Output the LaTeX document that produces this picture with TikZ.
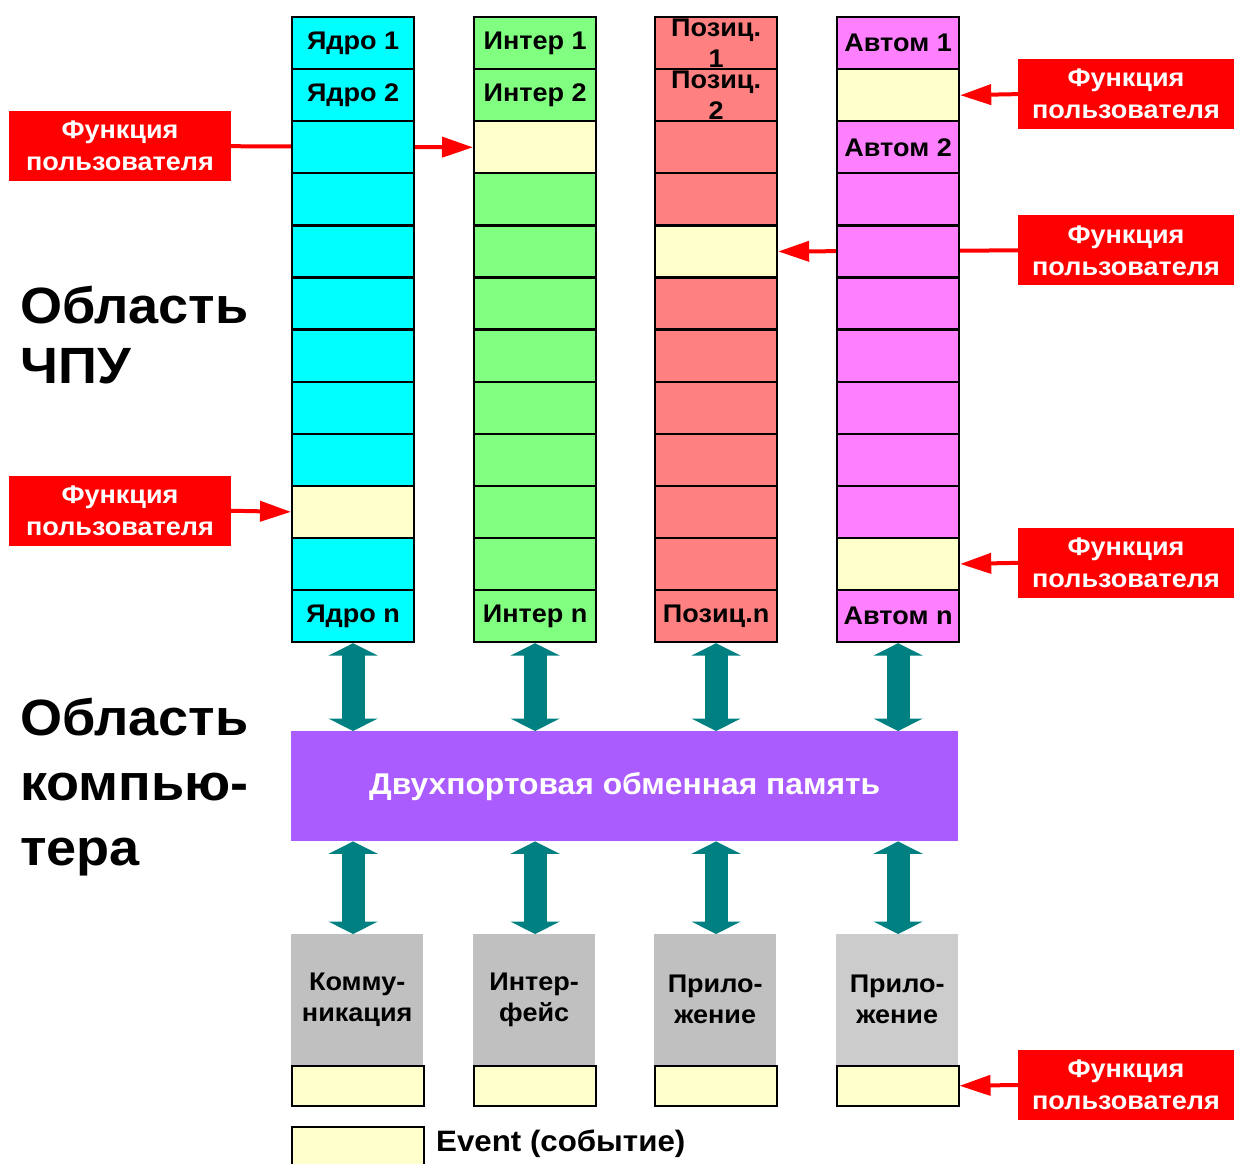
\documentclass[tikz,border=0pt]{standalone}
\usepackage{fontspec}
\setmainfont{Liberation Sans}[FakeStretch=1.06]
\usetikzlibrary{arrows.meta,backgrounds}

\definecolor{kcyan}{HTML}{00FFFF}
\definecolor{igreen}{HTML}{80FF80}
\definecolor{psalmon}{HTML}{FF8080}
\definecolor{apink}{HTML}{FF80FF}
\definecolor{evyellow}{HTML}{FFFFCC}
\definecolor{busteal}{HTML}{008080}
\definecolor{dpram}{HTML}{AA5CFF}
\definecolor{appgray}{HTML}{C0C0C0}
\definecolor{appgraylt}{HTML}{CCCCCC}
\definecolor{fnred}{HTML}{FF0000}

\tikzset{
  cellbox/.style={draw=black, line width=2.2pt, minimum width=122pt,
    minimum height=52.08pt, inner sep=0pt, anchor=north west,
    font=\fontsize{25.5}{31}\selectfont\bfseries},
  celltext/.style={inner sep=0pt, align=center,
    font=\fontsize{25.5}{31}\selectfont\bfseries},
  fnlabel/.style={fill=fnred, text=white, inner sep=0pt, align=center,
    minimum height=70pt, font=\fontsize{25.5}{32}\selectfont\bfseries},
  fnarrow/.style={draw=fnred, line width=4pt, -{Triangle[length=31pt,width=20pt]}},
  busarrow/.style={draw=busteal, line width=23pt,
    {Triangle[length=12.5pt,width=49pt]}-{Triangle[length=12.5pt,width=49pt]}},
  appbox/.style={inner sep=0pt, minimum height=131pt, anchor=north west,
    align=center, font=\fontsize{25.5}{31}\selectfont\bfseries},
  evbox/.style={draw=black, line width=1.5pt, fill=evyellow, inner sep=0pt,
    minimum width=122pt, minimum height=40pt, anchor=north west},
  areatitle/.style={inner sep=0pt, anchor=north west, align=left}
}

\begin{document}
\begin{tikzpicture}[x=1pt, y=-1pt]
\useasboundingbox (0,0) rectangle (1234,1163);

% ---- area titles
\node[areatitle, font=\fontsize{51}{60}\selectfont\bfseries] (cnc) at (20,286) {Область\\ЧПУ};
\node[areatitle, font=\fontsize{51}{65}\selectfont\bfseries] (pc) at (20,698) {Область\\компью-\\тера};

% ---- kernel column
\foreach \r in {2,3,4,5,6,7,8,10}
  \node[cellbox, fill=kcyan] (k\r) at (291,{16+52.08*\r}) {};
\node[cellbox, fill=kcyan] (k0) at (291,16) {Ядро 1};
\node[cellbox, fill=kcyan] (k1) at (291,{16+52.08}) {Ядро 2};
\node[cellbox, fill=evyellow] (k9) at (291,{16+52.08*9}) {};
\node[cellbox, fill=kcyan] (k11) at (291,{16+52.08*11}) {Ядро n};

% ---- interpreter column
\foreach \r in {3,4,5,6,7,8,9,10}
  \node[cellbox, fill=igreen] (i\r) at (473,{16+52.08*\r}) {};
\node[cellbox, fill=igreen] (i0) at (473,16) {Интер 1};
\node[cellbox, fill=igreen] (i1) at (473,{16+52.08}) {Интер 2};
\node[cellbox, fill=evyellow] (i2) at (473,{16+52.08*2}) {};
\node[cellbox, fill=igreen] (i11) at (473,{16+52.08*11}) {Интер n};

% ---- position control column
\foreach \r in {2,3,5,6,7,8,9,10}
  \node[cellbox, fill=psalmon] (p\r) at (654,{16+52.08*\r}) {};
\node[cellbox, fill=psalmon] (p0) at (654,16) {};
\node[cellbox, fill=psalmon] (p1) at (654,{16+52.08}) {};
\node[cellbox, fill=evyellow] (p4) at (654,{16+52.08*4}) {};
\node[cellbox, fill=psalmon] (p11) at (654,{16+52.08*11}) {Позиц.n};
\node[celltext] (p0t) at (p0.center) {Позиц.\\1};
\node[celltext] (p1t) at (p1.center) {Позиц.\\2};

% ---- automation column
\foreach \r in {3,4,5,6,7,8,9}
  \node[cellbox, fill=apink] (a\r) at (836,{16+52.08*\r}) {};
\node[cellbox, fill=apink] (a0) at (836,16) {Автом 1};
\node[cellbox, fill=evyellow] (a1) at (836,{16+52.08}) {};
\node[cellbox, fill=apink] (a2) at (836,{16+52.08*2}) {Автом 2};
\node[cellbox, fill=evyellow] (a10) at (836,{16+52.08*10}) {};
\node[cellbox, fill=apink] (a11) at (836,{16+52.08*11}) {Автом n};

% ---- dual-port memory
\node[fill=dpram, minimum width=667pt, minimum height=110pt, inner sep=0pt,
  anchor=north west, text=white, font=\fontsize{30}{36}\selectfont\bfseries]
  (mem) at (291,731) {Двухпортовая обменная память};

% ---- PC applications
\node[appbox, fill=appgray, minimum width=132pt] (g1) at (291,934) {Комму-\\никация};
\node[appbox, fill=appgray, minimum width=122pt] (g2) at (473,934) {Интер-\\фейс};
\node[appbox, fill=appgray, minimum width=122pt] (g3) at (654,934) {Прило-\\жение};
\node[appbox, fill=appgraylt, minimum width=122pt] (g4) at (836,934) {Прило-\\жение};
\node[evbox, minimum width=132pt] (e1) at (291,1065) {};
\node[evbox] (e2) at (473,1065) {};
\node[evbox] (e3) at (654,1065) {};
\node[evbox] (e4) at (836,1065) {};

% ---- legend
\node[evbox, minimum width=132pt, minimum height=50pt] (lg) at (291,1126) {};
\node[anchor=west, inner sep=0pt, font=\fontsize{29.5}{35}\selectfont\bfseries]
  (lgt) at (436,1144) {Event (событие)};

% ---- bus arrows
\foreach \c in {k11,i11,p11,a11} {
  \draw[busarrow] (\c.south) -- (mem.north -| \c.south);
  \draw[busarrow] (mem.south -| \c.south) -- (g1.north -| \c.south);
}

% ---- user function labels
\node[fnlabel, minimum width=222pt] (f1) at (120,{16+52.08*2.5}) {Функция\\пользователя};
\node[fnlabel, minimum width=222pt] (f2) at (120,{16+52.08*9.5}) {Функция\\пользователя};
\node[fnlabel, minimum width=216pt] (f3) at (1126,{16+52.08*1.5}) {Функция\\пользователя};
\node[fnlabel, minimum width=216pt] (f4) at (1126,{16+52.08*4.5}) {Функция\\пользователя};
\node[fnlabel, minimum width=216pt] (f5) at (1126,{16+52.08*10.5}) {Функция\\пользователя};
\node[fnlabel, minimum width=216pt] (f6) at (1126,1085) {Функция\\пользователя};

\begin{scope}[on background layer]
  \draw[fnarrow] (f1.east) -- (i2.west);
  \draw[fnarrow] (f4.west) -- (p4.east);
\end{scope}
\draw[fnarrow] (f2.east) -- (k9.west);
\draw[fnarrow] (f3.west) -- (a1.east);
\draw[fnarrow] (f5.west) -- (a10.east);
\draw[fnarrow] (f6.west) -- (e4.east);
\end{tikzpicture}
\end{document}
